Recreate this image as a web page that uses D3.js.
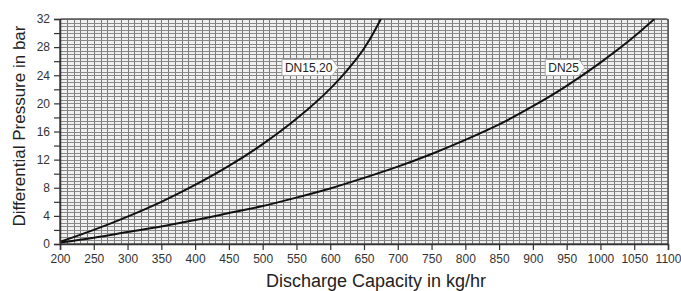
<!DOCTYPE html>
<html><head><meta charset="utf-8">
<script src="https://cdn.jsdelivr.net/npm/d3@7"></script>
<style>body{margin:0;background:#fff}svg{display:block}</style>
</head><body>
<svg id="c" width="681" height="291"></svg>
<script>
const xTicks = [200,250,300,350,400,450,500,550,600,650,700,750,800,850,900,950,1000,1050,1100];
const yTicks = [0,4,8,12,16,20,24,28,32];
const dn1520X = [200,250,300,350,400,450,500,550,600,625,650,665,675];
const dn1520Y = [0.3,2.0,3.9,6.0,8.4,11.1,14.2,17.8,22.1,24.7,27.8,30.2,32];
const dn25X = [200,250,300,350,400,450,500,550,600,650,700,750,800,850,900,950,1000,1050,1080];
const dn25Y = [0.2,0.9,1.7,2.5,3.4,4.4,5.4,6.6,7.9,9.4,11.0,12.8,14.8,17.0,19.6,22.5,25.8,29.5,32];
const seriesLabels = ["DN15,20","DN25"];
const labelAt = [[612,25.1],[977,25.1]];

const svg = d3.select("#c");
const L=60,R=668,T=19,B=244;
const x = d3.scaleLinear().domain([200,1100]).range([L,R]);
const y = d3.scaleLinear().domain([0,32]).range([B,T]);
const font = "Liberation Sans, Arial, sans-serif";

svg.append("rect").attr("x",L).attr("y",T).attr("width",R-L).attr("height",B-T).attr("fill","#f0f0f0");
const g = svg.append("g");
g.selectAll("line.v").data(d3.range(200,1101,10)).join("line")
 .attr("x1",d=>Math.round(x(d))+0.5).attr("x2",d=>Math.round(x(d))+0.5).attr("y1",T).attr("y2",B)
 .attr("stroke","#777").attr("stroke-width",1);
g.selectAll("line.h").data(d3.range(0,32.01,0.5)).join("line")
 .attr("y1",d=>Math.round(y(d))+0.5).attr("y2",d=>Math.round(y(d))+0.5).attr("x1",L).attr("x2",R)
 .attr("stroke","#888").attr("stroke-width",1);
svg.append("rect").attr("x",L).attr("y",T).attr("width",R-L).attr("height",B-T).attr("rx",2)
 .attr("fill","none").attr("stroke","#555").attr("stroke-width",1.5);

const line = d3.line().x(d=>x(d[0])).y(d=>y(d[1])).curve(d3.curveMonotoneX);
svg.append("clipPath").attr("id","cp").append("rect").attr("x",L).attr("y",T).attr("width",R-L).attr("height",B-T);
[[dn1520X,dn1520Y],[dn25X,dn25Y]].forEach(([xs,ys])=>{
  svg.append("path").datum(xs.map((v,i)=>[v,ys[i]])).attr("d",line)
   .attr("fill","none").attr("stroke","#111").attr("stroke-width",2).attr("clip-path","url(#cp)");
});

// axes
const xa = svg.append("g").attr("transform",`translate(0,${B})`)
 .call(d3.axisBottom(x).tickValues(xTicks).tickSize(6).tickPadding(4).tickFormat(d3.format("d")));
const ya = svg.append("g").attr("transform",`translate(${L},0)`)
 .call(d3.axisLeft(y).tickValues(d3.range(0,33,2)).tickSize(6).tickPadding(4)
   .tickFormat(d=>yTicks.includes(d)?d:""));
[xa,ya].forEach(a=>{
  a.select(".domain").attr("stroke","#333").attr("stroke-width",1.5);
  a.selectAll(".tick line").attr("stroke","#333").attr("stroke-width",1.2);
  a.selectAll("text").attr("fill","#333").style("font-family",font).style("font-size","12px");
});

svg.append("text").attr("x",376).attr("y",287).attr("text-anchor","middle")
 .style("font-family",font).style("font-size","18px").attr("fill","#222")
 .text("Discharge Capacity in kg/hr");
svg.append("text").attr("transform",`translate(25,126) rotate(-90)`).attr("text-anchor","middle")
 .style("font-family",font).style("font-size","17px").attr("fill","#222")
 .text("Differential Pressure in bar");

// series labels with arrow boxes
seriesLabels.forEach((s,i)=>{
  const tx = x(labelAt[i][0]), ty = y(labelAt[i][1]);
  const lg = svg.append("g").attr("transform",`translate(${tx},${ty})`);
  const t = lg.append("text").attr("x",-6).attr("y",4.5).attr("text-anchor","end")
   .style("font-family",font).style("font-size","12px").attr("fill","#222").text(s);
  const w = t.node().getComputedTextLength();
  lg.insert("path","text").attr("d",`M${-w-9},-8 H-6 L0,0 L-6,8 H${-w-9} Z`)
   .attr("fill","#fff").attr("stroke","#aaa").attr("stroke-width",1);
});
</script>
</body></html>
